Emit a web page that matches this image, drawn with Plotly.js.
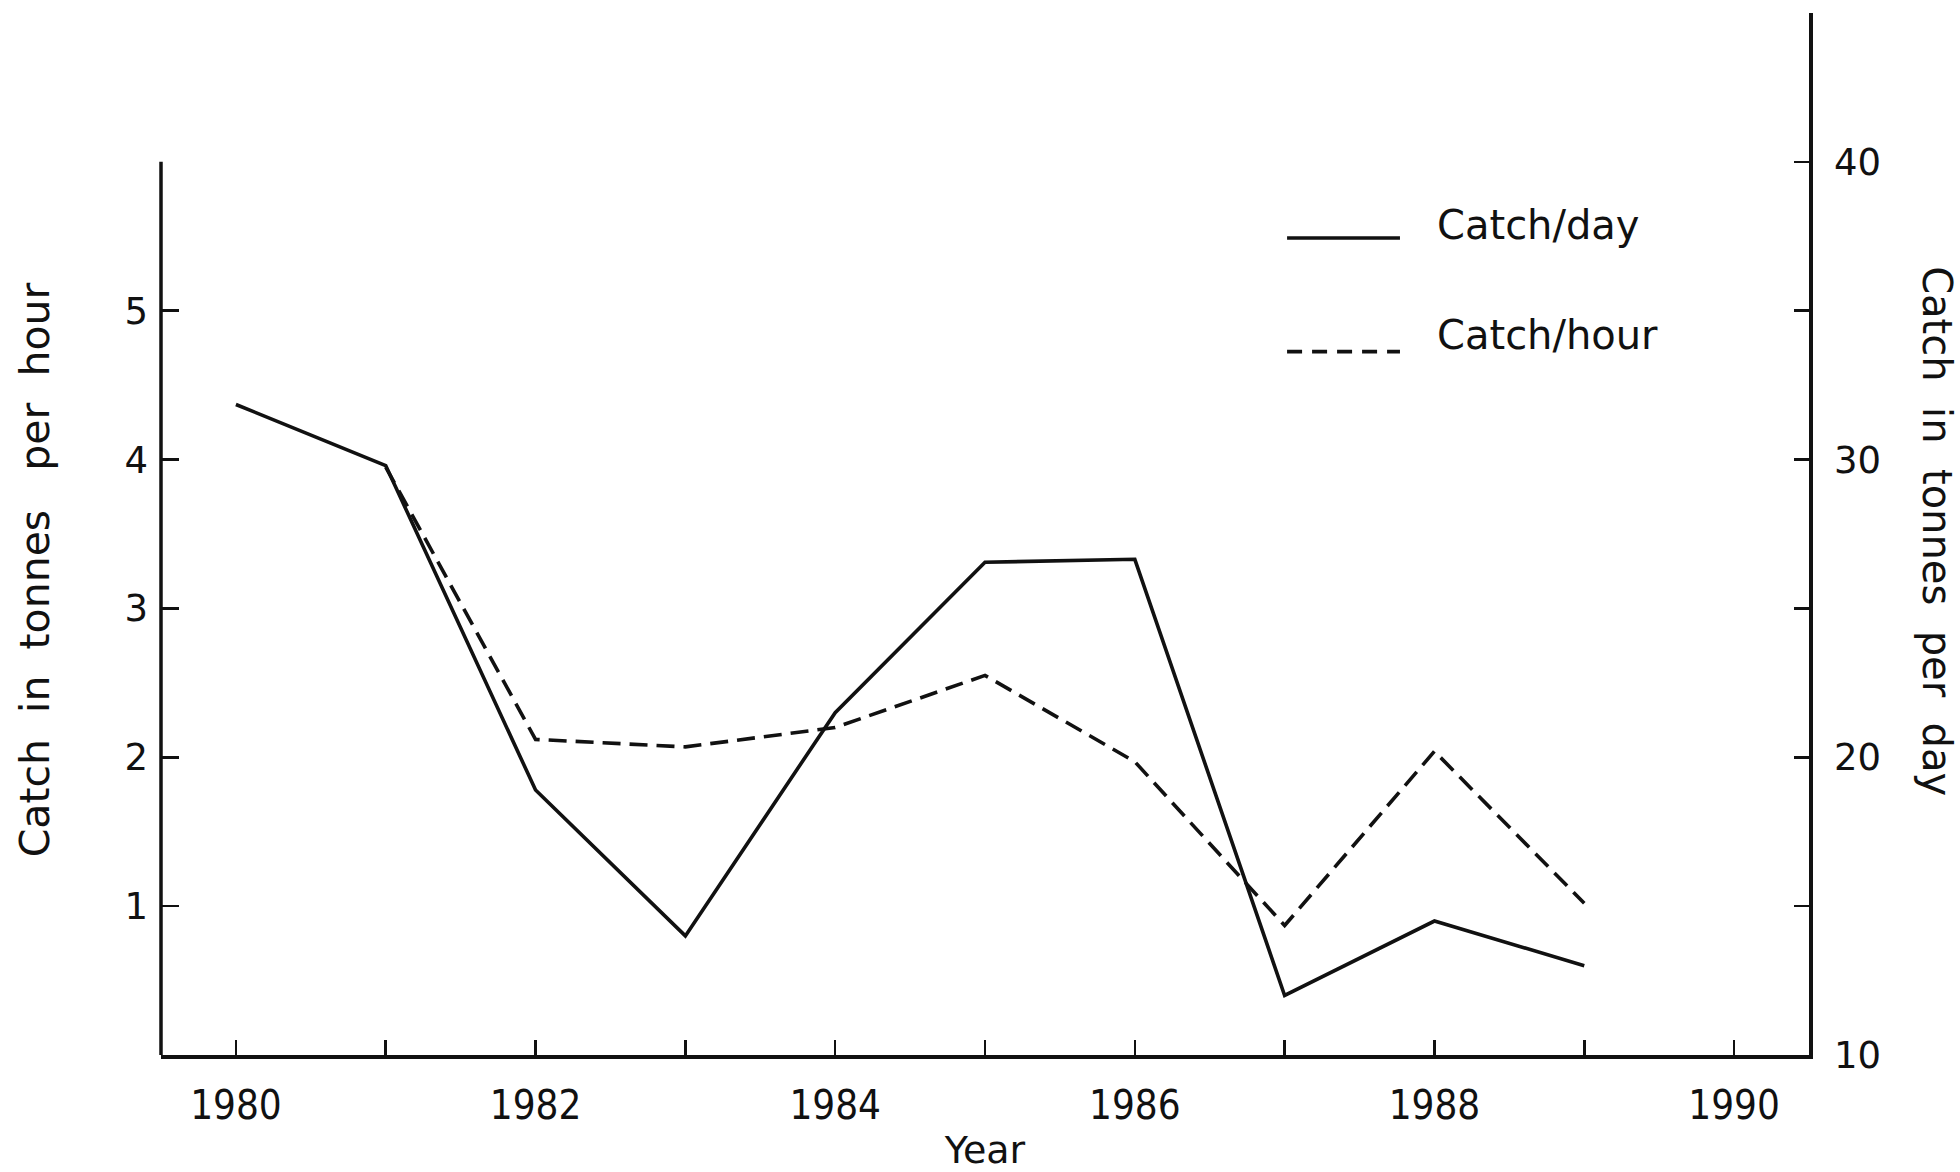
<!DOCTYPE html>
<html>
<head>
<meta charset="utf-8">
<script src="https://cdn.plot.ly/plotly-3.0.1.min.js"></script>
<style>
  html, body { margin: 0; padding: 0; background: #ffffff; }
  #chart { width: 1960px; height: 1172px; }
</style>
</head>
<body>
<div id="chart"></div>
<script>
// ---- data ----
const yearsDay = [1980, 1981, 1982, 1983, 1984, 1985, 1986, 1987, 1988, 1989];
const catchPerDay = [31.85, 29.8, 18.9, 14.0, 21.5, 26.55, 26.65, 12.0, 14.5, 13.0];

const yearsHour = [1981, 1982, 1983, 1984, 1985, 1986, 1987, 1988, 1989];
const catchPerHour = [3.95, 2.12, 2.07, 2.2, 2.55, 1.97, 0.87, 2.04, 1.02];

const xTickVals = [1980, 1981, 1982, 1983, 1984, 1985, 1986, 1987, 1988, 1989, 1990];
const xTickText = ['1980', '', '1982', '', '1984', '', '1986', '', '1988', '', '1990'];
const leftTickVals = [1, 2, 3, 4, 5];
const rightTickVals = [10, 15, 20, 25, 30, 35, 40];
const rightTickText = ['10', '', '20', '', '30', '', '40'];

const seriesNames = ['Catch/day', 'Catch/hour'];
const leftTitle = 'Catch  in  tonnes   per  hour';
const rightTitle = 'Catch  in  tonnes  per  day';
const xTitle = 'Year';

// ---- styling ----
const ink = '#111111';
const font = 'DejaVu Sans, Noto Sans, sans-serif';
const narrowFont = 'DejaVu Sans Condensed, Liberation Sans Narrow, DejaVu Sans, sans-serif';

const traces = [
  {
    x: yearsDay, y: catchPerDay, name: seriesNames[0],
    type: 'scatter', mode: 'lines', yaxis: 'y2',
    line: { color: ink, width: 3.6 }, showlegend: false, hoverinfo: 'x+y'
  },
  {
    x: yearsHour, y: catchPerHour, name: seriesNames[1],
    type: 'scatter', mode: 'lines', yaxis: 'y',
    line: { color: ink, width: 3.6, dash: '18px,9px' }, showlegend: false, hoverinfo: 'x+y'
  }
];

const layout = {
  width: 1960, height: 1172,
  margin: { l: 161, r: 151, t: 13, b: 117 },
  paper_bgcolor: '#ffffff', plot_bgcolor: '#ffffff',
  font: { family: font, color: ink, size: 36 },
  showlegend: false,
  xaxis: {
    range: [1979.5, 1990.5],
    tickmode: 'array', tickvals: xTickVals, ticktext: xTickText,
    ticks: 'inside', ticklen: 15, tickwidth: 2.5, tickcolor: ink,
    showline: true, linecolor: ink, linewidth: 3.5,
    showgrid: false, zeroline: false,
    tickfont: { family: narrowFont, size: 40, color: ink },
    ticklabelstandoff: 12,
    title: { text: xTitle, font: { family: font, size: 38, color: ink }, standoff: 12 }
  },
  yaxis: {
    range: [0, 7],
    tickmode: 'array', tickvals: leftTickVals,
    ticks: 'inside', ticklen: 18, tickwidth: 2.5, tickcolor: ink,
    showline: false, showgrid: false, zeroline: false,
    tickfont: { family: font, size: 37, color: ink },
    ticklabelstandoff: 12
  },
  yaxis2: {
    range: [10, 45], overlaying: 'y', side: 'right',
    tickmode: 'array', tickvals: rightTickVals, ticktext: rightTickText,
    ticks: 'inside', ticklen: 15, tickwidth: 2.5, tickcolor: ink,
    showline: true, linecolor: ink, linewidth: 3.5,
    showgrid: false, zeroline: false,
    tickfont: { family: font, size: 37, color: ink },
    ticklabelstandoff: 14
  },
  shapes: [
    // left axis line (stops at 6)
    { type: 'line', xref: 'paper', yref: 'y', x0: 0, x1: 0, y0: 0, y1: 6,
      line: { color: ink, width: 3.5 } },
    // legend samples
    { type: 'line', xref: 'paper', yref: 'paper', x0: 0.6833, x1: 0.7518, y0: 0.7841, y1: 0.7841,
      line: { color: ink, width: 3.6 } },
    { type: 'line', xref: 'paper', yref: 'paper', x0: 0.6833, x1: 0.7518, y0: 0.675, y1: 0.675,
      line: { color: ink, width: 3.6, dash: '15px,10px' } }
  ],
  annotations: [
    { xref: 'paper', yref: 'paper', x: 0.7731, y: 0.797, xanchor: 'left', yanchor: 'middle',
      text: seriesNames[0], showarrow: false, font: { family: font, size: 40, color: ink } },
    { xref: 'paper', yref: 'paper', x: 0.7731, y: 0.691, xanchor: 'left', yanchor: 'middle',
      text: seriesNames[1], showarrow: false, font: { family: font, size: 40, color: ink } },
    { xref: 'paper', yref: 'paper', x: -0.0765, y: 0.466, xanchor: 'center', yanchor: 'middle',
      text: leftTitle, textangle: -90, showarrow: false, font: { family: font, size: 41, color: ink } },
    { xref: 'paper', yref: 'paper', x: 1.0775, y: 0.503, xanchor: 'center', yanchor: 'middle',
      text: rightTitle, textangle: 90, showarrow: false, font: { family: font, size: 40, color: ink } }
  ]
};

Plotly.newPlot('chart', traces, layout, { displayModeBar: false, staticPlot: true });
</script>
</body>
</html>
